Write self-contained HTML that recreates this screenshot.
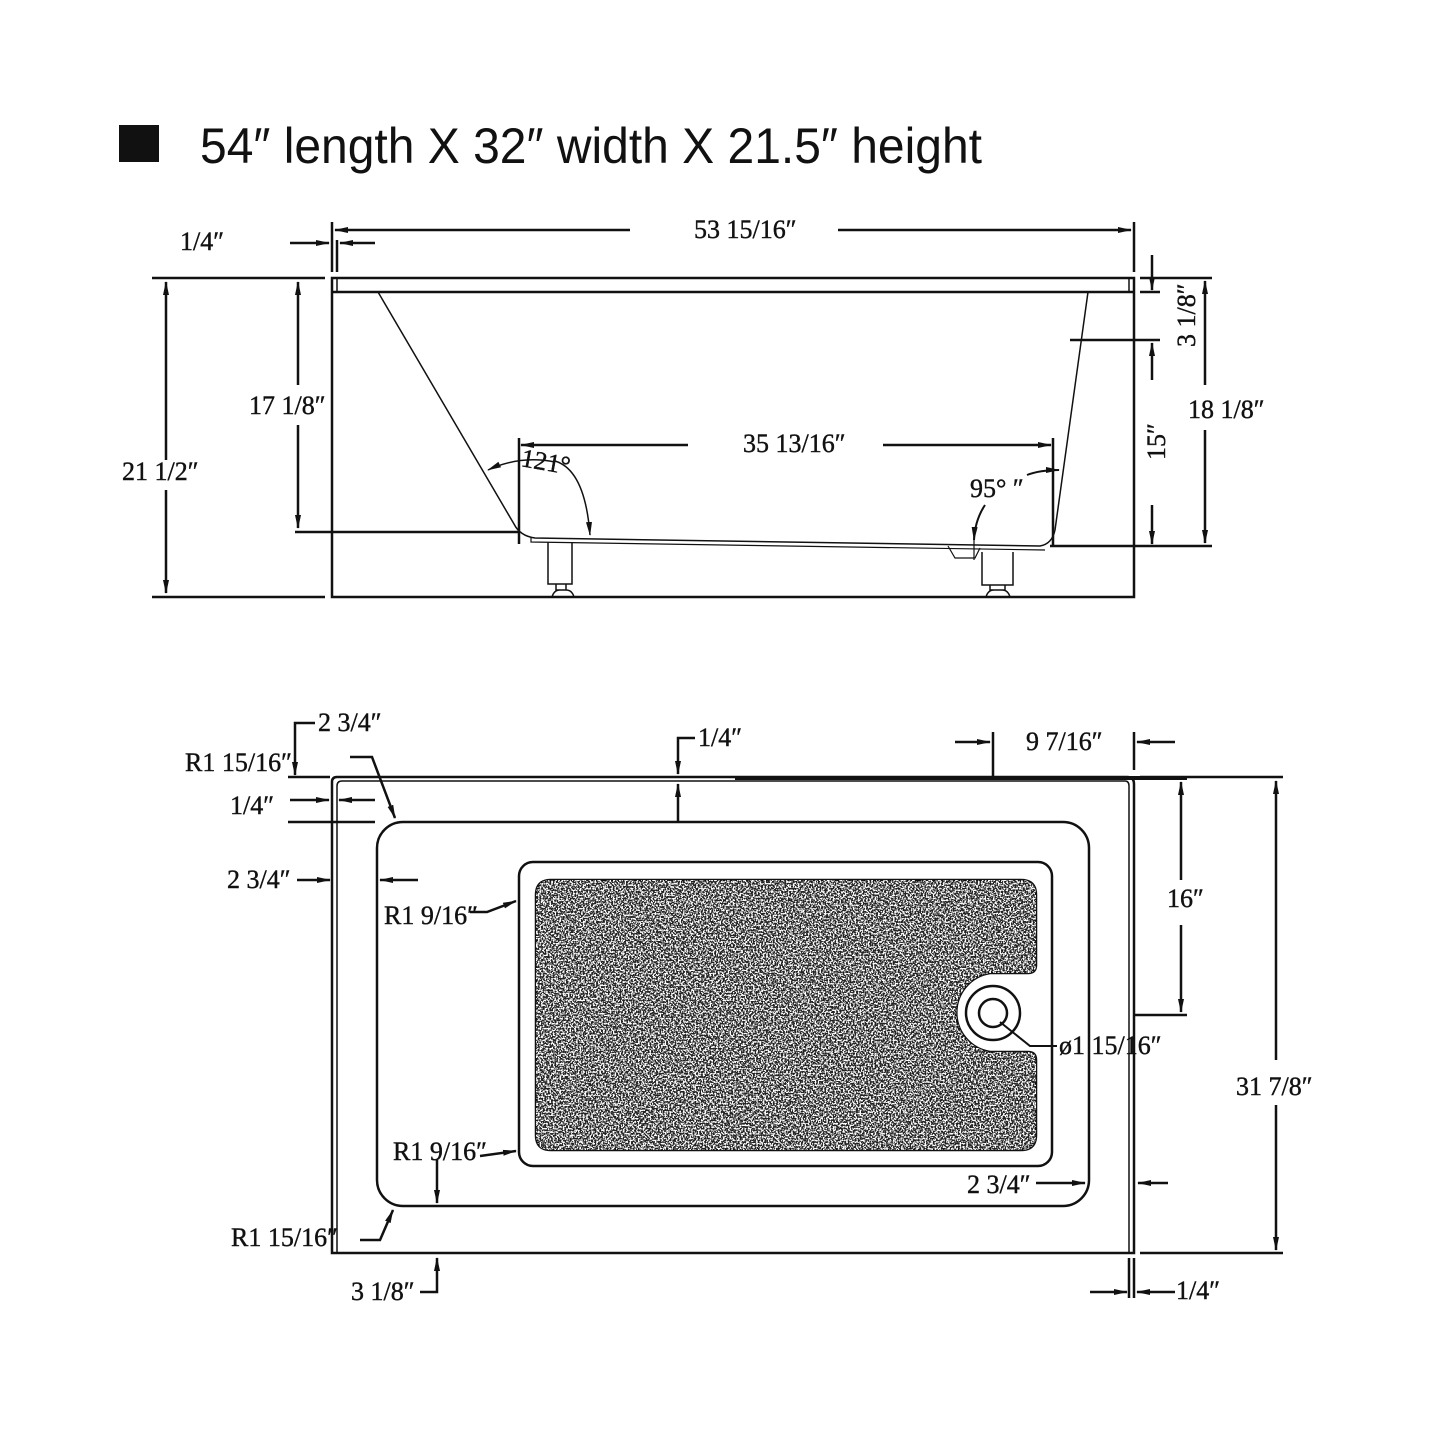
<!DOCTYPE html>
<html><head><meta charset="utf-8"><style>
html,body{margin:0;padding:0;background:#fff;}
svg{display:block}
.t{font-family:"Liberation Serif",serif;font-size:26px;fill:#111;stroke:#111;stroke-width:0.4;}
.h{font-family:"Liberation Sans",sans-serif;font-size:50px;fill:#111;}
</style></head><body>
<svg width="1445" height="1445" viewBox="0 0 1445 1445" xmlns="http://www.w3.org/2000/svg">
<defs>
<marker id="a" markerWidth="14" markerHeight="8" refX="13" refY="4" orient="auto" markerUnits="userSpaceOnUse">
<path d="M0,1 L14,4 L0,7 Z" fill="#111"/></marker>
<filter id="noise" x="0" y="0" width="100%" height="100%">
<feTurbulence type="fractalNoise" baseFrequency="0.6" numOctaves="2" seed="3" result="n"/>
<feColorMatrix in="n" type="matrix" values="0 0 0 0 1  0 0 0 0 1  0 0 0 0 1  0 0 0 9 -4.2" result="m"/>
<feComposite in="m" in2="SourceGraphic" operator="in"/>
</filter>
</defs>
<rect width="1445" height="1445" fill="#fff"/>
<rect x="119" y="125" width="40" height="37" fill="#111"/>
<text class="h" x="200" y="163" textLength="782" lengthAdjust="spacingAndGlyphs">54″ length X 32″ width X 21.5″ height</text>

<g stroke="#111" fill="none" stroke-width="2.5">
<path d="M332,278 H1134 V597 H332 Z"/>
<path d="M332,292 H1134"/>
<path d="M337,278 V292 M1129,278 V292" stroke-width="1.5"/>
<path d="M152,278 H325 M152,597 H325"/>
<path d="M166,460 V282" marker-end="url(#a)"/>
<path d="M166,490 V593" marker-end="url(#a)"/>
<path d="M298,385 V282" marker-end="url(#a)"/>
<path d="M298,425 V528" marker-end="url(#a)"/>
<path d="M295,532 H518"/>
<path d="M378,292 L514,524 Q520,536 535,538 L1040,546 Q1052,544 1055,530 L1088,292" stroke-width="1.5"/>
<path d="M531,538 V542 L1045,550" stroke-width="1.2"/>
<path d="M948,546 L955,558 H975 L980,548" stroke-width="1.2"/>
<path d="M548,542 V584 H572 V542 M556,584 V590 H566 V584 M552,597 Q554,590 560,590 H566 Q572,590 574,597" stroke-width="1.5"/>
<path d="M982,552 V585 H1013 V552 M990,585 V590 H1005 V585 M986,597 Q988,590 994,590 H1002 Q1008,590 1010,597" stroke-width="1.5"/>
<path d="M519,438 V544 M1053,438 V547"/>
<path d="M688,445 H521" marker-end="url(#a)"/>
<path d="M883,445 H1051" marker-end="url(#a)"/>
<path d="M555,462 Q520,455 488,470" stroke-width="1.5" marker-end="url(#a)"/>
<path d="M555,461 Q585,470 590,535" stroke-width="1.5" marker-end="url(#a)"/>
<path d="M1027,475 Q1040,470 1059,470" stroke-width="2" marker-end="url(#a)"/>
<path d="M985,505 Q975,520 974,540" stroke-width="2" marker-end="url(#a)"/>
<path d="M974,532 V560" stroke-width="1.2"/>
<path d="M332,222 V272 M1134,222 V272 M337,240 V272"/>
<path d="M630,230 H335" marker-end="url(#a)"/>
<path d="M838,230 H1131" marker-end="url(#a)"/>
<path d="M290,243 H329" marker-end="url(#a)"/>
<path d="M375,243 H340" marker-end="url(#a)"/>
<path d="M1140,278 H1212 M1140,292 H1160 M1070,340 H1160 M1050,546 H1212"/>
<path d="M1152,255 V290" marker-end="url(#a)"/>
<path d="M1152,380 V343" marker-end="url(#a)"/>
<path d="M1152,505 V544" marker-end="url(#a)"/>
<path d="M1205,385 V281" marker-end="url(#a)"/>
<path d="M1205,430 V543" marker-end="url(#a)"/>

<!-- PLAN -->
<path d="M332,1253 V782 Q332,777 337,777 H1127 Q1134,777 1134,784 V1253 Z"/>
<path d="M337,1253 V786 Q337,781 342,781 H1125 Q1129,781 1129,786 V1253" stroke-width="1.5"/>
<path d="M735,778 H1187" stroke-width="4"/>
<rect x="377" y="822" width="712" height="384" rx="26"/>
<rect x="519" y="862" width="533" height="304" rx="14"/>
</g>
<path d="M551,880 H1021 Q1036,880 1036,895 V965 Q1036,973 1028,973 H990 A40,40 0 0 0 990,1052 H1028 Q1036,1052 1036,1060 V1135 Q1036,1150 1021,1150 H551 Q536,1150 536,1135 V895 Q536,880 551,880 Z" fill="#222" stroke="#111" stroke-width="2.5"/>
<path d="M551,880 H1021 Q1036,880 1036,895 V965 Q1036,973 1028,973 H990 A40,40 0 0 0 990,1052 H1028 Q1036,1052 1036,1060 V1135 Q1036,1150 1021,1150 H551 Q536,1150 536,1135 V895 Q536,880 551,880 Z" fill="#fff" filter="url(#noise)"/>
<g stroke="#111" fill="none" stroke-width="2.5">
<circle cx="993" cy="1013" r="27" fill="#fff"/>
<circle cx="993" cy="1013" r="14"/>
<path d="M1000,1022 L1030,1046 H1057" stroke-width="2"/>
<path d="M993,732 V777 M1134,732 V770"/>
<path d="M955,742 H990" marker-end="url(#a)"/>
<path d="M1175,742 H1137" marker-end="url(#a)"/>
<path d="M695,738 H678 V774" marker-end="url(#a)"/>
<path d="M678,822 V784" marker-end="url(#a)"/>
<path d="M315,723 H295 V775" marker-end="url(#a)"/>
<path d="M288,777 H330 M288,822 H375"/>
<path d="M290,800 H329" marker-end="url(#a)"/>
<path d="M375,800 H339" marker-end="url(#a)"/>
<path d="M350,757 H372 L395,818" marker-end="url(#a)"/>
<path d="M297,880 H330" marker-end="url(#a)"/>
<path d="M418,880 H380" marker-end="url(#a)"/>
<path d="M470,912 H487 L516,901" marker-end="url(#a)"/>
<path d="M480,1156 L516,1151" marker-end="url(#a)"/>
<path d="M437,1160 V1203" marker-end="url(#a)"/>
<path d="M360,1240 H380 L393,1210" marker-end="url(#a)"/>
<path d="M420,1292 H437 V1258" marker-end="url(#a)"/>
<path d="M1140,777 H1187 M1134,1015 H1187 M1140,1253 H1283 M1187,777 H1283"/>
<path d="M1181,880 V782" marker-end="url(#a)"/>
<path d="M1181,925 V1012" marker-end="url(#a)"/>
<path d="M1276,1060 V781" marker-end="url(#a)"/>
<path d="M1276,1105 V1250" marker-end="url(#a)"/>
<path d="M1036,1183 H1085" marker-end="url(#a)"/>
<path d="M1168,1183 H1138" marker-end="url(#a)"/>
<path d="M1129,1258 V1298 M1134,1258 V1298"/>
<path d="M1090,1292 H1127" marker-end="url(#a)"/>
<path d="M1175,1292 H1137" marker-end="url(#a)"/>
</g>

<g class="t">
<text x="180" y="250">1/4″</text>
<text x="694" y="238">53 15/16″</text>
<text x="122" y="480">21 1/2″</text>
<text x="249" y="414">17 1/8″</text>
<text x="743" y="452">35 13/16″</text>
<text x="970" y="497">95°  ″</text>
<text x="1188" y="418">18 1/8″</text>
<text transform="translate(520,466) rotate(10)">121°</text>
<text transform="translate(1195,347) rotate(-90)">3 1/8″</text>
<text transform="translate(1165,460) rotate(-90)">15″</text>
<text x="318" y="731">2 3/4″</text>
<text x="185" y="771">R1 15/16″</text>
<text x="230" y="814">1/4″</text>
<text x="227" y="888">2 3/4″</text>
<text x="384" y="924">R1 9/16″</text>
<text x="393" y="1160">R1 9/16″</text>
<text x="231" y="1246">R1 15/16″</text>
<text x="351" y="1300">3 1/8″</text>
<text x="698" y="746">1/4″</text>
<text x="1026" y="750">9 7/16″</text>
<text x="1167" y="907">16″</text>
<text x="1059" y="1054">ø1 15/16″</text>
<text x="1236" y="1095">31 7/8″</text>
<text x="967" y="1193">2 3/4″</text>
<text x="1176" y="1299">1/4″</text>
</g>
</svg>
</body></html>
